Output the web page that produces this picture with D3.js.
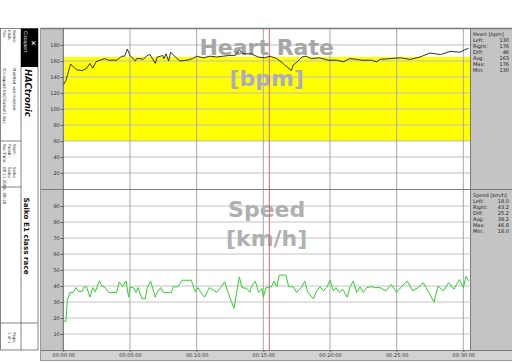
<!DOCTYPE html>
<html>
<head>
<meta charset="utf-8">
<script src="https://cdn.jsdelivr.net/npm/d3@7"></script>
<style>
  body { margin: 0; background: #fff; }
  svg { display: block; font-family: "DejaVu Sans", Verdana, sans-serif; }
</style>
</head>
<body>
<div id="chart"></div>
<script>
// Heart rate samples (minutes, bpm)
var hrTime = [0, 0.2, 0.55, 1.0, 1.4, 1.7, 2.0, 2.2, 2.45, 2.75, 3.1, 3.4, 4.0, 4.4, 4.6, 4.8, 5.0, 5.4, 5.5, 5.75,
  6.0, 6.3, 6.5, 6.9, 7.05, 7.3, 7.45, 7.55, 7.7, 7.9, 8.05, 8.4, 8.75, 9.3, 9.7, 10.0, 10.5, 11.0, 11.5, 12.0,
  12.5, 12.9, 13.2, 13.5, 14.1, 14.6, 15.1, 15.5, 16.0, 16.4, 16.75, 17.1, 17.25, 17.55, 17.9, 18.2, 18.6, 19.2,
  19.9, 20.5, 21.0, 21.5, 22.0, 22.4, 23.1, 23.5, 23.75, 24.5, 25.3, 26.0, 26.75, 27.5, 28.3, 29.0, 29.75, 30.1, 30.4];
var hrBpm = [130, 136, 156, 149, 148, 150, 157, 151, 159, 161, 163, 161, 161, 166, 166, 175, 167, 160, 163, 163,
  162, 167, 168, 157, 165, 166, 167, 163, 169, 160, 171, 165, 160, 161, 163, 166, 164, 166, 165, 166,
  167, 167, 174, 169, 169, 165, 164, 166, 163, 158, 153, 148, 155, 159, 165, 166, 163, 164,
  161, 161, 159, 163, 162, 161, 161, 159, 162, 163, 164, 162, 165, 170, 168, 172, 171, 174, 176];

// Speed samples (minutes, km/h)
var spdTime = [0, 0.2, 0.3, 0.5, 0.75, 0.95, 1.15, 1.4, 1.55, 1.75, 2.0, 2.2, 2.4, 2.7, 2.9, 3.15, 3.4, 4.0, 4.2, 4.45,
  4.7, 4.9, 5.0, 5.25, 5.45, 5.6, 5.9, 6.15, 6.3, 6.55, 6.9, 7.0, 7.3, 7.5, 8.1, 8.25, 8.6, 8.9, 9.6, 9.9,
  10.1, 10.35, 10.6, 10.95, 11.5, 11.85, 12.1, 12.35, 12.8, 13.2, 13.4, 13.75, 14.0, 14.1, 14.4, 14.65, 14.9, 15.0,
  15.2, 15.6, 15.8, 16.0, 16.2, 16.7, 16.9, 17.25, 17.5, 17.85, 18.1, 18.35, 18.75, 19.0, 19.25, 19.5, 19.75, 20.0,
  20.25, 20.45, 20.7, 20.95, 21.3, 21.5, 21.75, 22.0, 22.25, 22.5, 22.75, 23.1, 23.4, 23.75, 24.2, 24.6, 25.0,
  25.4, 25.8, 26.2, 26.6, 27.0, 27.4, 27.8, 28.1, 28.5, 28.9, 29.3, 29.7, 30.0, 30.2, 30.4];
var spdKmh = [18, 18, 31, 36, 36, 39, 36.5, 36.5, 39.5, 39.5, 33, 39, 36.4, 43.2, 40, 39, 36, 36, 42.6, 39.5,
  43.2, 33, 39, 39, 36, 39, 32, 32, 39, 43, 33, 35.5, 39, 36, 36, 39.5, 39.5, 43.6, 43.6, 36.3,
  39, 35.5, 33, 39, 36, 39.5, 42.6, 36, 26, 45.7, 39, 38.5, 36, 39.5, 43, 36, 38.5, 33,
  39, 39.5, 43, 39.5, 46.8, 46.8, 39.5, 39.5, 36, 39, 43, 36, 32, 37, 39.5, 37, 39, 43.6,
  37, 39, 36, 38, 33, 39.5, 43, 36, 39.5, 36, 39, 39.5, 39, 39, 37, 41, 36,
  40, 43, 37, 39, 42, 36, 30, 40, 37, 42, 38, 44, 39, 46, 43.2];

var timeTicks = [0, 5, 10, 15, 20, 25, 30];
var hrTicks = [20, 40, 60, 80, 100, 120, 140, 160, 180];
var spdTicks = [10, 20, 30, 40, 50, 60, 70, 80, 90];
var hrZone = [60, 165];
var cursorTime = 15.45;

var statLabels = ["Left:", "Right:", "Diff:", "Avg:", "Max:", "Min:"];
var hrStats = ["130", "176", "46", "163", "176", "130"];
var spdStats = ["18.0", "43.2", "25.2", "38.2", "46.8", "18.0"];

var W = 512, H = 362;
var plotL = 63.3, plotR = 470;
var hrTop = 29, hrBot = 189, spTop = 190, spBot = 350;

var svg = d3.select("#chart").append("svg")
    .attr("width", W).attr("height", H);

// Set the ranges
var x = d3.scaleLinear().domain([0, 30.5]).range([plotL, plotR]);
var yHr = d3.scaleLinear().domain([0, 200]).range([hrBot, hrTop]);
var ySp = d3.scaleLinear().domain([0, 100]).range([spBot, spTop]);

var fmtTime = function(m) { return "00:" + d3.format("02d")(m) + ":00"; };

// gray side strips and bottom band
svg.append("rect").attr("x", 40).attr("y", 28).attr("width", plotL - 40).attr("height", spBot - 28)
    .attr("fill", "#c4c4c4");
svg.append("rect").attr("x", plotR).attr("y", 28).attr("width", W - plotR).attr("height", spBot - 28)
    .attr("fill", "#c4c4c4");
svg.append("rect").attr("x", 40).attr("y", spBot).attr("width", W - 40).attr("height", 11)
    .attr("fill", "#d2d2d2");

// heart rate target zone
svg.append("rect")
    .attr("x", plotL).attr("width", plotR - plotL)
    .attr("y", yHr(hrZone[1])).attr("height", yHr(hrZone[0]) - yHr(hrZone[1]))
    .attr("fill", "#ffff00");

// horizontal grid
svg.append("g").selectAll("line").data(hrTicks).join("line")
    .attr("x1", plotL).attr("x2", plotR)
    .attr("y1", d => yHr(d)).attr("y2", d => yHr(d))
    .attr("stroke", "#bdbdbd").attr("stroke-width", 1);
svg.append("g").selectAll("line").data(spdTicks).join("line")
    .attr("x1", plotL).attr("x2", plotR)
    .attr("y1", d => ySp(d)).attr("y2", d => ySp(d))
    .attr("stroke", "#c4c4c4").attr("stroke-width", 1.2);

// vertical grid
svg.append("g").selectAll("line").data(timeTicks.slice(1)).join("line")
    .attr("x1", d => x(d)).attr("x2", d => x(d))
    .attr("y1", hrTop).attr("y2", spBot)
    .attr("stroke", "#a8a8a8").attr("stroke-width", 1);

// watermark titles
var title = svg.append("g").attr("font-weight", "bold").attr("font-size", 22).attr("text-anchor", "middle");
title.append("text").attr("x", (plotL + plotR) / 2).attr("y", 55).attr("fill", "#a6a6a6").text("Heart Rate");
title.append("text").attr("x", (plotL + plotR) / 2).attr("y", 86).attr("fill", "#ababc6").text("[bpm]");
title.append("text").attr("x", (plotL + plotR) / 2).attr("y", 217).attr("fill", "#b0b0b0").text("Speed");
title.append("text").attr("x", (plotL + plotR) / 2).attr("y", 246).attr("fill", "#b0b0b0").text("[km/h]");

// cursor
svg.append("line")
    .attr("x1", x(cursorTime)).attr("x2", x(cursorTime))
    .attr("y1", hrTop).attr("y2", spBot)
    .attr("stroke", "#d86a6a").attr("stroke-width", 1);

// Define the lines
var hrLine = d3.line().x(i => x(hrTime[i])).y(i => yHr(hrBpm[i]));
var spLine = d3.line().x(i => x(spdTime[i])).y(i => ySp(spdKmh[i]));

svg.append("path")
    .attr("d", hrLine(d3.range(hrTime.length)))
    .attr("fill", "none").attr("stroke", "#1a1a1a").attr("stroke-width", 0.9);
svg.append("path")
    .attr("d", spLine(d3.range(spdTime.length)))
    .attr("fill", "none").attr("stroke", "#2fd02f").attr("stroke-width", 1);

// Y axes
function styleAxis(g) {
    g.select(".domain").remove();
    g.selectAll("text").attr("font-size", 5).attr("fill", "#333").attr("font-family", "DejaVu Sans, sans-serif");
    g.selectAll("line").attr("stroke", "#555");
}
svg.append("g").attr("transform", "translate(" + plotL + ",0)")
    .call(d3.axisLeft(yHr).tickValues(hrTicks).tickSize(2.5).tickPadding(1).tickFormat(d3.format("d")))
    .call(styleAxis);
svg.append("g").attr("transform", "translate(" + plotL + ",0)")
    .call(d3.axisLeft(ySp).tickValues(spdTicks).tickSize(2.5).tickPadding(1).tickFormat(d3.format("d")))
    .call(styleAxis);

// X axis
svg.append("g").attr("transform", "translate(0," + spBot + ")")
    .call(d3.axisBottom(x).tickValues(timeTicks).tickSize(2).tickPadding(1.5).tickFormat(fmtTime))
    .call(styleAxis);

// frame lines
var frame = svg.append("g").attr("stroke", "#7a7a7a").attr("fill", "none");
frame.append("line").attr("x1", 40).attr("x2", W).attr("y1", 28.5).attr("y2", 28.5).attr("stroke-width", 1.5);
frame.append("line").attr("x1", 40).attr("x2", W).attr("y1", hrBot + 0.5).attr("y2", hrBot + 0.5).attr("stroke-width", 1.2);
frame.append("line").attr("x1", 40).attr("x2", W).attr("y1", spBot + 0.5).attr("y2", spBot + 0.5);
frame.append("line").attr("x1", 40).attr("x2", W).attr("y1", 360.5).attr("y2", 360.5).attr("stroke", "#999");
frame.append("line").attr("x1", plotL).attr("x2", plotL).attr("y1", 28).attr("y2", spBot).attr("stroke", "#666");
frame.append("line").attr("x1", plotR + 0.5).attr("x2", plotR + 0.5).attr("y1", 28).attr("y2", spBot);
frame.append("line").attr("x1", 40.5).attr("x2", 40.5).attr("y1", 28).attr("y2", 361).attr("stroke", "#999");

// stats panels
function statsBlock(top, head, vals) {
    var g = svg.append("g").attr("font-size", 5).attr("fill", "#222");
    g.append("text").attr("x", 473).attr("y", top).text(head);
    statLabels.forEach(function(l, i) {
        g.append("text").attr("x", 473).attr("y", top + 6 * (i + 1)).text(l);
        g.append("text").attr("x", 509).attr("y", top + 6 * (i + 1)).attr("text-anchor", "end").text(vals[i]);
    });
}
statsBlock(36, "Heart [bpm]", hrStats);
statsBlock(197, "Speed [km/h]", spdStats);

// left header, rotated
var side = svg.append("g");
function vtext(px, py, str, size, weight, style, fill, anchor) {
    side.append("text")
        .attr("transform", "translate(" + px + "," + py + ") rotate(90)")
        .attr("font-size", size)
        .attr("font-weight", weight || "normal")
        .attr("font-style", style || "normal")
        .attr("fill", fill || "#222")
        .attr("text-anchor", anchor || "start")
        .text(str);
}
var sl = side.append("g").attr("stroke", "#666").attr("stroke-width", 0.8).attr("fill", "none");
sl.append("rect").attr("x", 0.5).attr("y", 28.5).attr("width", 37.5).attr("height", 321.5);
sl.append("line").attr("x1", 21).attr("x2", 21).attr("y1", 28.5).attr("y2", 350);
sl.append("line").attr("x1", 0.5).attr("x2", 21).attr("y1", 141).attr("y2", 141);
sl.append("line").attr("x1", 0.5).attr("x2", 21).attr("y1", 187).attr("y2", 187);
sl.append("line").attr("x1", 0.5).attr("x2", 38).attr("y1", 323).attr("y2", 323);
side.append("rect").attr("x", 21).attr("y", 28.5).attr("width", 17).attr("height", 38.5).attr("fill", "#000");

vtext(24, 31, "Cicosport", 4.6, "normal", "normal", "#fff");
vtext(30.5, 40, "✕", 7, "bold", "normal", "#fff");
vtext(25, 69, "HACtronic", 8.5, "bold", "italic", "#111");
vtext(23.5, 236, "Saiko E1 class race", 7.2, "bold", "normal", "#111", "middle");

vtext(13, 30, "Name:", 4);
vtext(8, 30, "Club:", 4);
vtext(2.5, 30, "File:", 4);
vtext(13, 68, "Manfred van Holstein", 4);
vtext(2.5, 68, "\\Cicosport\\HAC\\SaikoE1.hac", 4);

vtext(13, 144, "Start:", 4);
vtext(8, 144, "Finish:", 4);
vtext(2.5, 144, "Rec-Time:", 4);
vtext(13, 167, "Saiko", 4);
vtext(8, 167, "Saiko", 4);
vtext(2.5, 167, "08.11.2006, 08:18", 4);

vtext(13, 332, "Page:", 4);
vtext(8, 332, "1 of 1", 4);
</script>
</body>
</html>
